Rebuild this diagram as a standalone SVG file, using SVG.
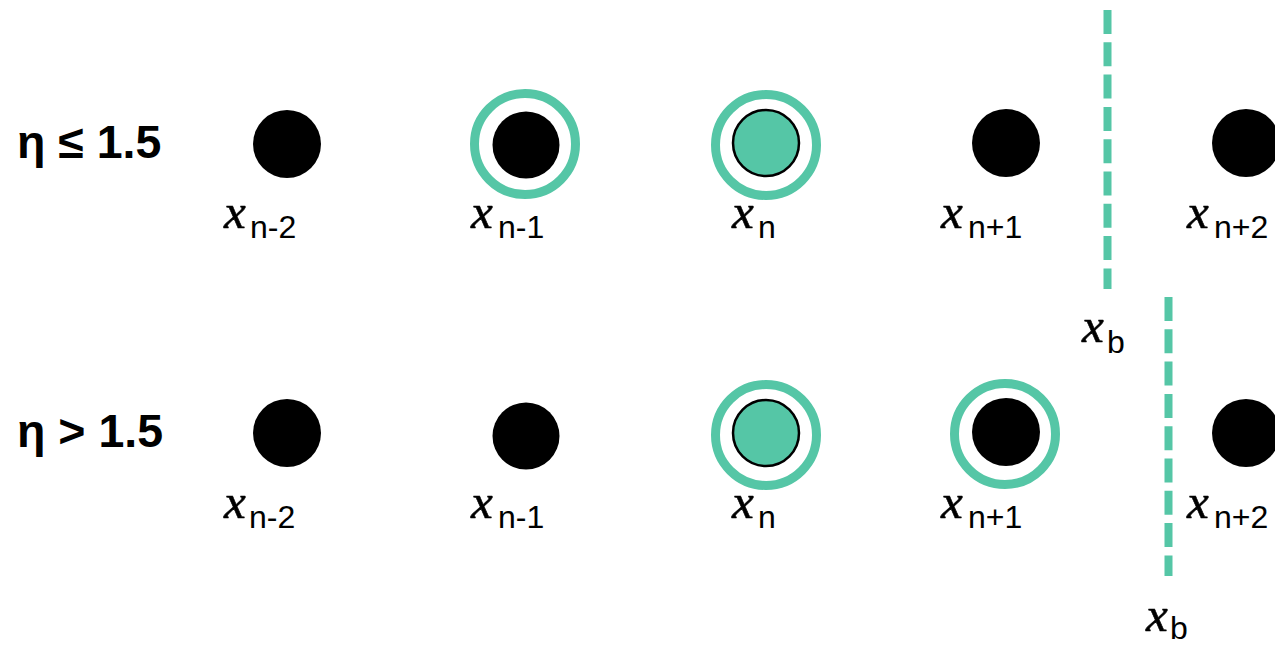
<svg xmlns="http://www.w3.org/2000/svg" width="1275" height="647" viewBox="0 0 1275 647">
<style>
.dot{fill:#000}
.cur{fill:#55c6a6;stroke:#000;stroke-width:2.5}
.ring{fill:none;stroke:#55c6a6;stroke-width:9}
.bound{stroke:#55c6a6;stroke-width:8;stroke-dasharray:24 8.3;fill:none}
.var{font-family:"Liberation Serif","DejaVu Serif",serif;font-style:italic;font-size:49px;fill:#000;stroke:#000;stroke-width:0.6}
.sub{font-family:"Liberation Sans","DejaVu Sans",sans-serif;font-size:32px;fill:#000}
.head{font-family:"Liberation Sans","DejaVu Sans",sans-serif;font-weight:bold;font-size:46.5px;fill:#000}
</style>
<rect width="1275" height="647" fill="#fff"/>
<g id="row1">
  <text id="head1" class="head" x="17" y="158">η ≤ 1.5</text>
  <g id="r1-n-2"><circle class="dot" cx="287" cy="144" r="34"/><text><tspan class="var" x="224" y="228">x</tspan><tspan class="sub" x="250" y="238">n-2</tspan></text></g>
  <g id="r1-n-1"><circle class="ring" cx="525" cy="144" r="50.5"/><circle class="dot" cx="526" cy="145" r="33.5"/><text><tspan class="var" x="471" y="228">x</tspan><tspan class="sub" x="498" y="238">n-1</tspan></text></g>
  <g id="r1-n"><circle class="ring" cx="766" cy="145" r="50.5"/><circle class="cur" cx="766" cy="143" r="33"/><text><tspan class="var" x="732" y="228">x</tspan><tspan class="sub" x="758" y="238">n</tspan></text></g>
  <g id="r1-n+1"><circle class="dot" cx="1006" cy="143" r="34"/><text><tspan class="var" x="941" y="228">x</tspan><tspan class="sub" x="968" y="238">n+1</tspan></text></g>
  <g id="r1-n+2"><circle class="dot" cx="1246" cy="143" r="34"/><text><tspan class="var" x="1187" y="228">x</tspan><tspan class="sub" x="1214" y="238">n+2</tspan></text></g>
  <g id="r1-b"><text><tspan class="var" x="1082" y="342">x</tspan><tspan class="sub" x="1107" y="353">b</tspan></text></g>
</g>
<g id="row2">
  <text id="head2" class="head" x="17" y="447">η &gt; 1.5</text>
  <g id="r2-n-2"><circle class="dot" cx="287" cy="433" r="34"/><text><tspan class="var" x="224" y="518">x</tspan><tspan class="sub" x="249" y="528">n-2</tspan></text></g>
  <g id="r2-n-1"><circle class="dot" cx="526" cy="436" r="33.5"/><text><tspan class="var" x="471" y="518">x</tspan><tspan class="sub" x="498" y="528">n-1</tspan></text></g>
  <g id="r2-n"><circle class="ring" cx="766" cy="435" r="50.5"/><circle class="cur" cx="766" cy="433" r="33"/><text><tspan class="var" x="732" y="518">x</tspan><tspan class="sub" x="758" y="528">n</tspan></text></g>
  <g id="r2-n+1"><circle class="ring" cx="1005" cy="434" r="50.5"/><circle class="dot" cx="1006" cy="432" r="34"/><text><tspan class="var" x="941" y="518">x</tspan><tspan class="sub" x="968" y="528">n+1</tspan></text></g>
  <g id="r2-n+2"><circle class="dot" cx="1246" cy="433" r="34"/><text><tspan class="var" x="1187" y="518">x</tspan><tspan class="sub" x="1214" y="528">n+2</tspan></text></g>
  <g id="r2-b"><text><tspan class="var" x="1146" y="631">x</tspan><tspan class="sub" x="1170" y="639">b</tspan></text></g>
</g>
<g id="connectors">
  <line class="bound" x1="1107.5" y1="10" x2="1107.5" y2="289"/>
  <line class="bound" x1="1168.5" y1="297" x2="1168.5" y2="576"/>
</g>
</svg>
